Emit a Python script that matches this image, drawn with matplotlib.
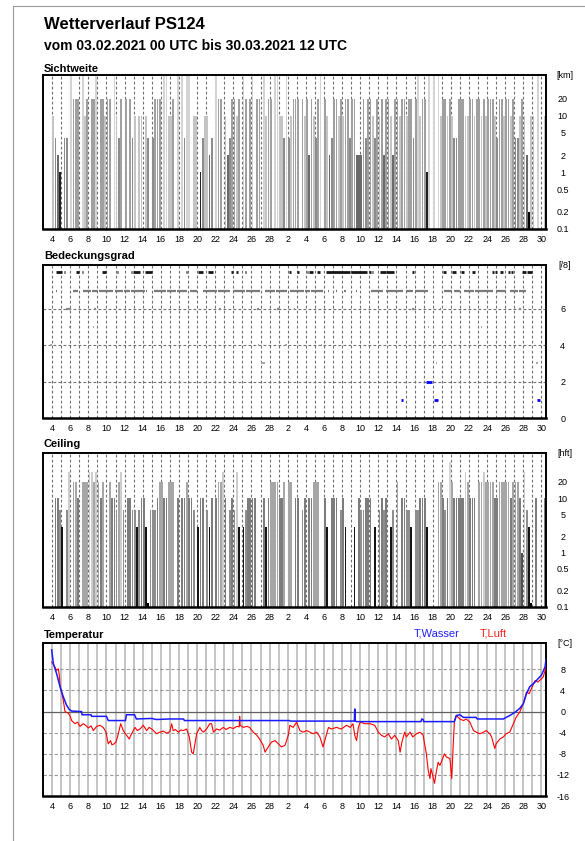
import numpy as np
import matplotlib
matplotlib.use('Agg')
import matplotlib.pyplot as plt
from matplotlib.lines import Line2D
from matplotlib.ticker import NullLocator

plt.rcParams['font.family'] = ['Liberation Sans', 'DejaVu Sans']

# ── Data ──────────────────────────────────────────────────────────────────────
# x axis: days since 03.02.2021 00 UTC, bars are 6-hourly slots
DAY_LABELS = ['4', '6', '8', '10', '12', '14', '16', '18', '20', '22', '24', '26', '28',
              '2', '4', '6', '8', '10', '12', '14', '16', '18', '20', '22', '24', '26', '28', '30']

# Sichtweite [km], 4 values per day
vis = [
    None, None, None, None,  10, 4, 2, 1,  None, 4, 4, None,  50, 20, 20, 20,
    None, 50, 10, 20,  None, 20, 20, 50,  None, 20, 20, 10,  20, 20, None, 50,
    10, 4, 20, None,  20, None, 20, 4,  10, None, 10, 10,  None, 10, 4, None,
    4, 20, 20, 20,  None, 50, 50, 10,  10, 20, None, 50,  None, 50, 4, 50,
    50, None, 10, 10,  None, 1, 4, 10,  10, 2, 4, None,  50, 20, 20, None,
    10, 2, 4, 20,  20, 10, 20, None,  50, 20, None, 20,  50, None, 20, 20,
    None, 50, 10, 20,  20, None, 50, 50,  10, 10, 4, 50,  4, 10, 20, 20,
    20, None, 20, 10,  20, 2, 20, 10,  4, 20, 50, None,  20, 10, 2, 4,
    20, 20, 10, 20,  10, 20, 20, 4,  20, 20, 2, 2,  2, 20, 4, 20,
    20, 10, 4, 20,  10, 20, 2, 20,  20, 10, 2, 20,  20, 10, 20, 20,
    10, 20, 20, 4,  20, 50, 10, 20,  20, 1, 50, None,  50, None, 50, 10,
    20, 20, 10, 20,  10, 4, 4, 20,  20, 20, 10, 10,  20, 20, 10, 20,
    20, 10, 20, 10,  20, 20, 20, 10,  4, 20, 20, 10,  20, 20, 10, 20,
    4, 4, 10, 20,  10, 2, 0.2, 10,  10, None, 50, None,  None, 10,
]

# Ceiling [hft], 4 values per day
ceil = [
    None, None, None, None,  None, 10, 10, 6,  3, None, 6, 30,  None, 20, 20, 10,
    None, 20, 20, 20,  30, 30, 20, 30,  20, 10, 20, None,  None, 20, 10, 10,
    6, 20, 30, 6,  None, 10, 10, 6,  6, 3, 6, 10,  10, 3, 0.12, 6,
    6, 6, 10, 20,  20, 10, 10, 20,  20, 20, None, 10,  None, 10, 10, 20,
    10, 10, 6, None,  3, 10, 10, None,  6, 3, 10, None,  10, 20, 20, 30,
    10, None, 6, 10,  6, 30, 3, None,  3, 6, 10, 10,  10, 10, None, None,
    None, 10, 3, 10,  20, 20, 20, 20,  10, 10, 20, None,  20, 20, None, 10,
    10, None, 6, 10,  None, 10, 10, 20,  20, 20, None, None,  10, 3, None, 10,
    10, 10, None, 6,  10, 3, None, None,  None, 3, None, 10,  6, 6, 10, 10,
    10, None, 3, None,  6, 10, 6, 10,  None, 3, 6, None,  20, None, 10, 10,
    6, 6, 3, None,  6, 6, 10, 10,  10, 3, None, None,  None, None, 20, 20,
    10, 6, 10, 47,  20, 10, 10, 10,  10, 10, 30, 20,  10, 10, 10, None,
    20, 20, 30, 20,  20, 20, 20, 10,  10, 20, 20, 20,  20, 20, 10, 20,
    20, 20, 10, 1,  30, 6, 3, 0.12,  None, 10, None, None,  None, 10,
]

# Bedeckungsgrad [/8]: (start day, end day) spans per octa value
cover8 = [(1.43, 2.06), (2.3, 2.42), (3.68, 4.0), (4.3, 4.45), (6.5, 7.0), (8.15, 8.3),
          (9.7, 9.82), (9.95, 10.7), (11.25, 12.0), (15.75, 15.9), (17.1, 17.7),
          (18.2, 18.8), (20.7, 21.0), (21.35, 21.5), (22.25, 22.4), (27.15, 27.4),
          (28.05, 28.3), (29.1, 29.2), (29.35, 29.8), (30.2, 30.6), (31.2, 33.9),
          (34.0, 35.8), (35.95, 36.15), (36.3, 36.45), (37.2, 37.8), (37.9, 38.7),
          (40.75, 40.9), (44.1, 44.5), (45.1, 45.6), (46.1, 46.5), (47.3, 47.65),
          (49.5, 49.75), (49.85, 50.05), (50.4, 50.8), (51.3, 51.55), (51.65, 51.9),
          (52.8, 53.3), (53.4, 54.0), (55.35, 55.5)]
cover7 = [(1.4, 1.52), (3.35, 3.9), (4.4, 5.3), (5.4, 6.1), (6.2, 6.9), (7.0, 7.75),
          (7.95, 8.8), (8.9, 9.6), (9.7, 11.25), (11.35, 11.48), (12.25, 13.6),
          (13.7, 14.7), (14.8, 15.85), (16.2, 16.95), (17.7, 19.15), (19.35, 20.6),
          (21.0, 22.3), (22.4, 23.95), (24.5, 25.6), (25.7, 26.9), (27.25, 28.8),
          (28.9, 29.45), (29.55, 30.9), (31.45, 31.58), (32.35, 32.48), (33.25, 33.38),
          (34.55, 34.68), (36.2, 37.5), (37.9, 39.7), (40.05, 40.8), (41.0, 42.5),
          (44.3, 45.1), (45.4, 46.0), (46.4, 47.6), (47.7, 49.7), (50.0, 51.1),
          (51.5, 52.4), (52.5, 53.3)]
cover6 = [(2.55, 3.1), (5.65, 5.8), (19.45, 19.6), (23.65, 23.8), (25.85, 26.0),
          (27.65, 27.8), (40.75, 40.9), (43.75, 43.9), (52.55, 52.7)]
cover5 = [(2.85, 3.0), (5.5, 5.62), (42.45, 42.58), (48.35, 48.48)]
cover4 = [(0.82, 0.95), (23.7, 23.85), (26.75, 26.9), (30.65, 30.8)]
cover3 = [(24.1, 24.5), (43.35, 43.48), (54.45, 54.58)]
cover2 = [(42.3, 42.9)]
cover1 = [(39.55, 39.7), (43.1, 43.6), (54.5, 54.85)]

# Temperatur [°C]
water_days = [0.96, 1.14, 1.5, 1.88, 2.24, 2.6, 2.9, 3.16, 4.26, 4.3, 5.3, 5.37, 7.0, 7.2,
              9.1, 9.2, 10.1, 10.3, 12.0, 12.5, 14.0, 15.5, 15.6, 27.2, 27.3, 34.35, 34.4,
              34.45, 34.6, 41.7, 41.8, 41.95, 42.0, 45.4, 45.6, 45.99, 46.4, 47.8, 47.9,
              50.8, 51.1, 51.5, 52.1, 52.6, 53.0, 53.35, 53.7, 54.3, 54.6, 55.0, 55.4, 55.5]
water_temp = [11.7, 9.1, 7.2, 4.7, 2.8, 1.2, 0.4, 0.1, 0.0, -0.6, -0.6, -0.9, -0.9, -1.7,
              -1.7, -0.6, -0.6, -1.4, -1.3, -1.5, -1.4, -1.4, -1.7, -1.7, -1.8, -1.8, 0.5,
              -1.8, -1.9, -1.9, -1.4, -1.5, -1.9, -1.9, -0.75, -0.6, -1.1, -1.1, -1.4,
              -1.4, -1.1, -0.75, -0.1, 0.6, 1.5, 3.4, 4.7, 5.6, 6.2, 6.9, 8.5, 9.9]

air_days = [0.96, 1.3, 1.5, 1.69, 1.8, 1.88, 2.05, 2.24, 2.43, 2.79, 2.98, 3.16, 3.53, 3.8,
            4.08, 4.45, 4.7, 5.0, 5.3, 5.55, 5.92, 6.29, 6.65, 6.95, 7.2, 7.46, 7.6, 7.76,
            8.05, 8.31, 8.57, 8.86, 9.05, 9.23, 9.52, 9.65, 9.78, 10.15, 10.4, 10.7, 11.07,
            11.43, 11.7, 11.99, 12.3, 12.54, 12.9, 13.27, 13.64, 14.0, 14.19, 14.37, 14.6,
            14.93, 15.2, 15.48, 15.85, 16.14, 16.4, 16.58, 16.76, 16.95, 17.3, 17.5, 17.7,
            18.05, 18.4, 18.6, 18.8, 19.15, 19.5, 19.9, 20.2, 20.6, 21.0, 21.4, 21.65, 21.7,
            21.75, 22.1, 22.5, 22.8, 23.2, 23.6, 23.9, 24.3, 24.5, 24.85, 25.2, 25.6, 25.96,
            26.3, 26.7, 27.06, 27.24, 27.6, 27.98, 28.35, 28.7, 29.1, 29.45, 29.8, 30.2,
            30.55, 30.9, 31.2, 31.5, 31.8, 32.4, 32.9, 33.5, 33.9, 34.2, 34.4, 34.6, 34.8,
            35.0, 35.5, 36.1, 36.6, 37.0, 37.35, 37.7, 38.1, 38.45, 38.8, 39.2, 39.4, 39.6,
            39.9, 40.1, 40.5, 40.8, 41.2, 41.6, 41.95, 42.1, 42.3, 42.5, 42.7, 42.8, 43.0,
            43.2, 43.4, 43.6, 43.8, 44.1, 44.3, 44.5, 44.9, 45.1, 45.25, 45.4, 45.6, 45.99,
            46.4, 46.7, 47.1, 47.5, 47.8, 48.2, 48.6, 48.9, 49.3, 49.5, 49.85, 50.0, 50.4,
            50.8, 51.1, 51.5, 51.9, 52.2, 52.6, 53.0, 53.35, 53.65, 53.9, 54.3, 54.6, 55.0,
            55.2, 55.4, 55.5]
air_temp = [9.4, 8.5, 7.8, 8.1, 6.9, 5.0, 3.7, 2.1, 0.0, -0.3, -0.8, -1.7, -2.3, -2.0,
            -2.8, -2.3, -2.6, -3.1, -2.7, -3.6, -2.8, -2.6, -3.0, -3.9, -6.1, -5.5, -6.3, -6.2,
            -5.8, -4.2, -2.3, -3.6, -4.1, -4.5, -5.2, -4.6, -4.2, -3.0, -3.6, -3.3, -2.6,
            -3.6, -3.0, -3.3, -3.8, -4.2, -3.9, -3.7, -4.1, -3.8, -2.3, -3.6, -3.4,
            -3.9, -3.5, -3.6, -3.3, -4.8, -7.7, -8.0, -6.1, -4.2, -3.0, -3.6, -3.9,
            -3.3, -2.3, -2.3, -3.9, -3.3, -3.5, -3.0, -3.4, -3.0, -3.2, -2.8, -2.9, -0.9,
            -2.6, -3.0, -2.8, -3.0, -3.9, -4.5, -5.2, -6.4, -7.7, -6.7, -5.8, -5.5, -6.1,
            -6.7, -6.4, -4.5, -2.6, -3.0, -2.0, -3.6, -3.9, -3.6, -3.9, -4.2, -3.9,
            -4.8, -6.7, -4.8, -3.0, -3.3, -3.0, -3.3, -2.6, -3.0, -2.3, -4.5, -5.5, -3.0,
            -2.0, -2.3, -2.3, -2.6, -3.9, -4.5, -4.8, -4.2, -5.2, -4.5, -5.5, -7.7, -5.8,
            -3.9, -4.8, -3.9, -4.8, -4.2, -3.9, -4.5, -6.1, -8.0, -11.1, -12.7, -10.8, -12.1,
            -13.6, -11.4, -9.6, -10.2, -8.9, -8.0, -8.6, -8.9, -12.7, -6.7, -1.7, -0.75, -1.4,
            -1.7, -1.4, -2.0, -3.6, -3.9, -4.2, -3.9, -3.6, -4.2, -4.8, -7.0, -6.1, -5.2,
            -4.8, -4.2, -3.9, -2.3, -1.1, -0.1, 1.5, 3.7, 3.4, 4.4, 5.9, 5.6, 6.2,
            6.6, 7.8, 8.6]

VIS_COLORS = {50: '#d4d4d4', 20: '#a0a0a0', 10: '#c4c4c4', 4: '#8c8c8c', 2: '#6a6a6a',
              1: '#202020', 0.2: '#000000'}
CEIL_COLORS = {47: '#d6d6d6', 30: '#cdcdcd', 20: '#a6a6a6', 10: '#7c7c7c', 6: '#8e8e8e',
               3: '#141414', 1: '#505050', 0.12: '#000000'}

# ── Layout (pixel boxes of the 585x841 page) ─────────────────────────────────
W, H = 585, 841
LEFT, RIGHT = 43, 546
N_DAYS = 55.5

def box(top, bottom):
    return [LEFT / W, 1 - bottom / H, (RIGHT - LEFT) / W, (bottom - top) / H]

fig = plt.figure(figsize=(W / 100, H / 100), dpi=100)
fig.patch.set_facecolor('white')

# page frame
fig.add_artist(Line2D([13 / W, 13 / W], [0, 1 - 6 / H], color='#9a9a9a', lw=0.8))
fig.add_artist(Line2D([13 / W, 1], [1 - 6 / H, 1 - 6 / H], color='#9a9a9a', lw=0.8))

fig.text(44 / W, 1 - 29 / H, 'Wetterverlauf PS124', fontsize=12, fontweight='bold', va='baseline')
fig.text(44 / W, 1 - 50 / H, 'vom 03.02.2021 00 UTC bis 30.03.2021 12 UTC',
         fontsize=10, fontweight='bold', va='baseline')

TICK_FS = 6.5
GRID_DASH = dict(color='#707070', lw=0.8, ls=(0, (2.5, 2.0)), zorder=0)


def base_axes(top, bottom, title, unit, title_base):
    ax = fig.add_axes(box(top, bottom))
    ax.set_xlim(0, N_DAYS)
    ax.set_xticks(np.arange(1, 56, 2))
    ax.set_xticklabels(DAY_LABELS, fontsize=TICK_FS)
    ax.yaxis.tick_right()
    ax.tick_params(axis='both', length=0, labelsize=TICK_FS)
    ax.tick_params(axis='x', pad=4)
    ax.tick_params(axis='y', pad=12)
    for sp in ax.spines.values():
        sp.set_linewidth(1.4)
        sp.set_color('black')
    ax.spines['bottom'].set_linewidth(1.8)
    fig.text(44 / W, 1 - title_base / H, title, fontsize=8, fontweight='bold', va='baseline')
    fig.text(565 / W, 1 - top / H, unit, fontsize=6.5, ha='center', va='center')
    return ax


def day_grid(ax):
    for d in range(1, 56):
        ax.axvline(d, **GRID_DASH)


def center_ylabels(ax):
    for lab in ax.get_yticklabels():
        lab.set_horizontalalignment('center')


def bar_panel(ax, values, colors, ymax, ticks, ticklabels):
    ax.set_yscale('log')
    ax.set_ylim(0.1, ymax)
    day_grid(ax)
    slots = np.arange(len(values)) * 0.25 + 0.125
    for x, v in zip(slots, values):
        if v is None:
            continue
        ax.bar(x, v - 0.1, bottom=0.1, width=0.19, color=colors[v], linewidth=0, zorder=2)
    ax.set_yticks(ticks)
    ax.set_yticklabels(ticklabels)
    ax.yaxis.set_minor_locator(NullLocator())
    center_ylabels(ax)


LOG_TICKS = [0.1, 0.2, 0.5, 1, 2, 5, 10, 20]
LOG_LABELS = ['0.1', '0.2', '0.5', '1', '2', '5', '10', '20']

# ── Sichtweite ───────────────────────────────────────────────────────────────
ax1 = base_axes(75, 229, 'Sichtweite', '[km]', 71.5)
bar_panel(ax1, vis, VIS_COLORS, 53, LOG_TICKS, LOG_LABELS)

# ── Bedeckungsgrad ───────────────────────────────────────────────────────────
ax2 = base_axes(265, 418, 'Bedeckungsgrad', '[/8]', 259)
ax2.set_ylim(0, 8.4)
day_grid(ax2)
for lev in (2, 4, 6):
    ax2.axhline(lev, **GRID_DASH)
cover_sets = [(8, cover8, '#151515', 2.0), (7, cover7, '#7a7a7a', 1.6), (6, cover6, '#8a8a8a', 1.6),
              (5, cover5, '#a5a5a5', 1.4), (4, cover4, '#a5a5a5', 1.4), (3, cover3, '#a5a5a5', 1.4),
              (2, cover2, '#0000ff', 2.0), (1, cover1, '#0000ff', 2.0)]
for lev, spans, col, lw in cover_sets:
    starts = [s for s, e in spans]
    ends = [e for s, e in spans]
    ax2.hlines([lev] * len(spans), starts, ends, colors=col, lw=lw, zorder=3)
ax2.set_yticks([0, 2, 4, 6])
ax2.set_yticklabels(['0', '2', '4', '6'])
center_ylabels(ax2)

# ── Ceiling ──────────────────────────────────────────────────────────────────
ax3 = base_axes(453, 607, 'Ceiling', '[hft]', 447)
bar_panel(ax3, ceil, CEIL_COLORS, 68, LOG_TICKS, LOG_LABELS)

# ── Temperatur ───────────────────────────────────────────────────────────────
ax4 = base_axes(643, 796, 'Temperatur', '[°C]', 638)
ax4.set_ylim(-16, 13)
for d in range(1, 56):
    ax4.axvline(d, color='#b4b4b4', lw=1.1, zorder=0)
for lev in (-12, -8, -4, 4, 8):
    ax4.axhline(lev, color='#9a9a9a', lw=0.8, ls=(0, (3, 2)), zorder=0)
ax4.axhline(0, color='#606060', lw=0.9, zorder=1)
ax4.plot(air_days, air_temp, color='#ff0000', lw=0.8, zorder=3)
ax4.plot(water_days, water_temp, color='#1a1aff', lw=1.1, zorder=4)
ax4.set_yticks([-16, -12, -8, -4, 0, 4, 8])
ax4.set_yticklabels(['-16', '-12', '-8', '-4', '0', '4', '8'])
center_ylabels(ax4)
fig.text(414 / W, 1 - 636.5 / H, 'T,Wasser', color='#2020ff', fontsize=8, va='baseline')
fig.text(480 / W, 1 - 636.5 / H, 'T,Luft', color='#ff2020', fontsize=8, va='baseline')

fig.savefig('out.png', dpi=100)
